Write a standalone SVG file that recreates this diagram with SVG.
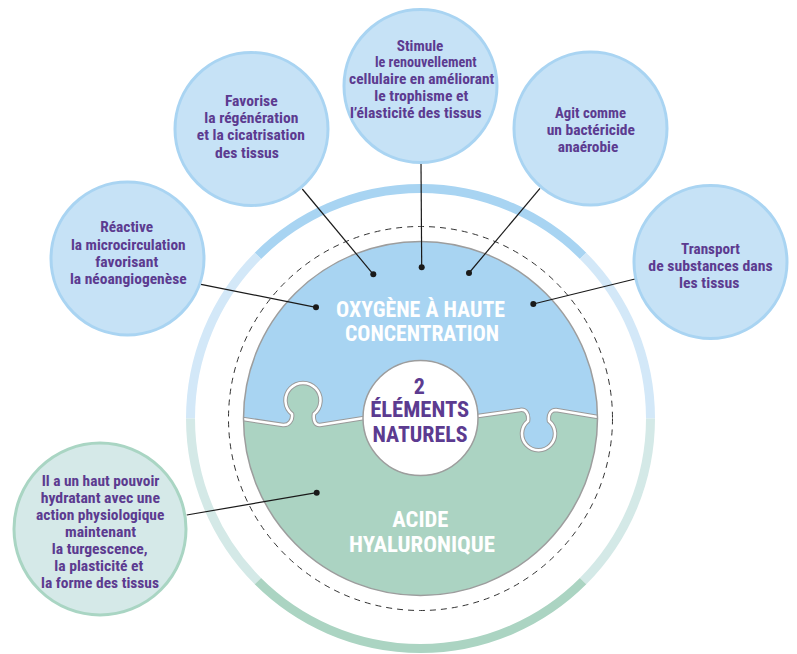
<svg xmlns="http://www.w3.org/2000/svg" width="797" height="654" viewBox="0 0 797 654">
<defs>
<style>
.bub{fill:#c6e2f6;stroke:#a9d4f2;stroke-width:3}
.bubg{fill:#d5e9e8;stroke:#a9d5c3;stroke-width:3}
.t{font-family:"Roboto Condensed","Liberation Sans Narrow","DejaVu Sans Condensed","Roboto","Liberation Sans",sans-serif;font-weight:bold;font-size:14.5px;fill:#5c3b90;text-anchor:middle}
.big{font-family:"Roboto Condensed","Liberation Sans Narrow","DejaVu Sans Condensed","Roboto","Liberation Sans",sans-serif;font-weight:bold;font-size:22px;fill:#ffffff;text-anchor:middle}
.ctr{font-family:"Roboto Condensed","Liberation Sans Narrow","DejaVu Sans Condensed","Roboto","Liberation Sans",sans-serif;font-weight:bold;font-size:22px;fill:#5c3b90;text-anchor:middle}
.ring{fill:none;stroke-width:9}
.ln{stroke:#1a1a1a;stroke-width:1.2;fill:none}
.dot{fill:#1a1a1a}
</style>
<clipPath id="mc"><circle cx="420.5" cy="418.5" r="177"/></clipPath>
</defs>

<g id="outer-ring">
<path class="ring" stroke="#a8d4f2" d="M257.9,255.9 A230 230 0 0 1 583.1,255.9"/>
<path class="ring" stroke="#d3e8f8" d="M583.1,255.9 A230 230 0 0 1 650.5,418.5"/>
<path class="ring" stroke="#d3e8f8" d="M190.5,418.5 A230 230 0 0 1 257.9,255.9"/>
<path class="ring" stroke="#d4e9e7" d="M650.5,418.5 A230 230 0 0 1 583.1,581.1"/>
<path class="ring" stroke="#d4e9e7" d="M257.9,581.1 A230 230 0 0 1 190.5,418.5"/>
<path class="ring" stroke="#abd4c2" d="M583.1,581.1 A230 230 0 0 1 257.9,581.1"/>
</g>

<g id="dashed-ring">
<circle cx="420.5" cy="418.5" r="192" fill="none" stroke="#333" stroke-width="1" stroke-dasharray="6 5"/>
</g>

<g id="main-circle">
<circle cx="420.5" cy="418.5" r="177" fill="#a8d4f2"/>
<g clip-path="url(#mc)">
<path fill="#abd3c2" d="M230,419 L243,419 L283,425 C289,425.5 293,420 292,414 A17.5 17.5 0 1 1 314,414 C313,420 315,425.5 320,425 L364,418 L478,416 L520,410 C526,409 529,414 528,421 A16.5 16.5 0 1 0 549,421 C548,414 551,410 556,410 L598,417 L612,417 L612,612 L230,612 Z"/>
<path fill="none" stroke="#9a9a9a" stroke-width="4.5" d="M230,419 L243,419 L283,425 C289,425.5 293,420 292,414 A17.5 17.5 0 1 1 314,414 C313,420 315,425.5 320,425 L364,418 L478,416 L520,410 C526,409 529,414 528,421 A16.5 16.5 0 1 0 549,421 C548,414 551,410 556,410 L598,417 L612,417"/>
<path fill="none" stroke="#ffffff" stroke-width="2.5" d="M230,419 L243,419 L283,425 C289,425.5 293,420 292,414 A17.5 17.5 0 1 1 314,414 C313,420 315,425.5 320,425 L364,418 L478,416 L520,410 C526,409 529,414 528,421 A16.5 16.5 0 1 0 549,421 C548,414 551,410 556,410 L598,417 L612,417"/>
</g>
<circle cx="420.5" cy="418.5" r="177" fill="none" stroke="#9d9d9d" stroke-width="1.5"/>
<text class="big" x="420.5" y="316.7" textLength="169" lengthAdjust="spacingAndGlyphs">OXYGÈNE À HAUTE</text>
<text class="big" x="422" y="340.7" textLength="154" lengthAdjust="spacingAndGlyphs">CONCENTRATION</text>
<text class="big" x="420.3" y="526.7" textLength="56" lengthAdjust="spacingAndGlyphs">ACIDE</text>
<text class="big" x="422" y="551.7" textLength="146" lengthAdjust="spacingAndGlyphs">HYALURONIQUE</text>
</g>

<g id="center">
<circle cx="420.5" cy="418" r="57.5" fill="#ffffff" stroke="#9d9d9d" stroke-width="1.5"/>
<text class="ctr" x="419.2" y="394">2</text>
<text class="ctr" x="419.7" y="417.3" textLength="99" lengthAdjust="spacingAndGlyphs">ÉLÉMENTS</text>
<text class="ctr" x="420" y="441.7" textLength="95" lengthAdjust="spacingAndGlyphs">NATURELS</text>
</g>

<g id="connectors">
<line class="ln" x1="302.3" y1="189" x2="373.3" y2="274.3"/>
<line class="ln" x1="201" y1="284.3" x2="316" y2="307.3"/>
<line class="ln" x1="421" y1="163" x2="421.7" y2="267.3"/>
<line class="ln" x1="540" y1="188.3" x2="469" y2="273"/>
<line class="ln" x1="635" y1="279" x2="533.3" y2="304"/>
<line class="ln" x1="186.7" y1="515" x2="316.7" y2="492.7"/>
<circle class="dot" cx="373.3" cy="274.3" r="3"/>
<circle class="dot" cx="316" cy="307.3" r="3"/>
<circle class="dot" cx="421.7" cy="267.3" r="3"/>
<circle class="dot" cx="469" cy="273" r="3"/>
<circle class="dot" cx="533.3" cy="304" r="3"/>
<circle class="dot" cx="316.7" cy="492.7" r="3"/>
</g>

<g id="node-reactive">
<circle class="bub" cx="127.5" cy="258.5" r="76.5"/>
<text class="t" x="126.7" y="232.3" textLength="53" lengthAdjust="spacingAndGlyphs">Réactive</text>
<text class="t" x="128.3" y="249.5" textLength="114.7" lengthAdjust="spacingAndGlyphs">la microcirculation</text>
<text class="t" x="126.7" y="266.7" textLength="63" lengthAdjust="spacingAndGlyphs">favorisant</text>
<text class="t" x="128.3" y="283.9" textLength="116.7" lengthAdjust="spacingAndGlyphs">la néoangiogenèse</text>
</g>

<g id="node-favorise">
<circle class="bub" cx="251.5" cy="129" r="76.5"/>
<text class="t" x="251.3" y="106" textLength="52.7" lengthAdjust="spacingAndGlyphs">Favorise</text>
<text class="t" x="251.3" y="123.2" textLength="94" lengthAdjust="spacingAndGlyphs">la régénération</text>
<text class="t" x="250.8" y="140.4" textLength="108" lengthAdjust="spacingAndGlyphs">et la cicatrisation</text>
<text class="t" x="247" y="157.6" textLength="64" lengthAdjust="spacingAndGlyphs">des tissus</text>
</g>

<g id="node-stimule">
<circle class="bub" cx="420.5" cy="86" r="76.5"/>
<text class="t" x="420" y="50.5" textLength="46.6" lengthAdjust="spacingAndGlyphs">Stimule</text>
<text class="t" x="425.8" y="67.4" textLength="101.7" lengthAdjust="spacingAndGlyphs">le renouvellement</text>
<text class="t" x="421.7" y="84.3" textLength="145.3" lengthAdjust="spacingAndGlyphs">cellulaire en améliorant</text>
<text class="t" x="421.3" y="101.2" textLength="94" lengthAdjust="spacingAndGlyphs">le trophisme et</text>
<text class="t" x="415.8" y="118.1" textLength="131.7" lengthAdjust="spacingAndGlyphs">l’élasticité des tissus</text>
</g>

<g id="node-agit">
<circle class="bub" cx="590.5" cy="128.5" r="76.5"/>
<text class="t" x="590.5" y="118.3" textLength="71" lengthAdjust="spacingAndGlyphs">Agit comme</text>
<text class="t" x="590.8" y="135" textLength="88.3" lengthAdjust="spacingAndGlyphs">un bactéricide</text>
<text class="t" x="588" y="151.7" textLength="60.7" lengthAdjust="spacingAndGlyphs">anaérobie</text>
</g>

<g id="node-transport">
<circle class="bub" cx="710.5" cy="262" r="76.5"/>
<text class="t" x="710.5" y="254.3" textLength="59" lengthAdjust="spacingAndGlyphs">Transport</text>
<text class="t" x="710.5" y="271" textLength="124.3" lengthAdjust="spacingAndGlyphs">de substances dans</text>
<text class="t" x="709.2" y="287.7" textLength="60.3" lengthAdjust="spacingAndGlyphs">les tissus</text>
</g>

<g id="node-hydratant">
<circle class="bubg" cx="100" cy="529" r="86"/>
<text class="t" x="100.5" y="485.7" textLength="117.7" lengthAdjust="spacingAndGlyphs">Il a un haut pouvoir</text>
<text class="t" x="100.3" y="502.8" textLength="119.3" lengthAdjust="spacingAndGlyphs">hydratant avec une</text>
<text class="t" x="100.2" y="519.9" textLength="128.3" lengthAdjust="spacingAndGlyphs">action physiologique</text>
<text class="t" x="100.5" y="537" textLength="71" lengthAdjust="spacingAndGlyphs">maintenant</text>
<text class="t" x="99.7" y="554.1" textLength="96" lengthAdjust="spacingAndGlyphs">la turgescence,</text>
<text class="t" x="98.8" y="571.2" textLength="89" lengthAdjust="spacingAndGlyphs">la plasticité et</text>
<text class="t" x="100" y="588.3" textLength="118" lengthAdjust="spacingAndGlyphs">la forme des tissus</text>
</g>
</svg>
